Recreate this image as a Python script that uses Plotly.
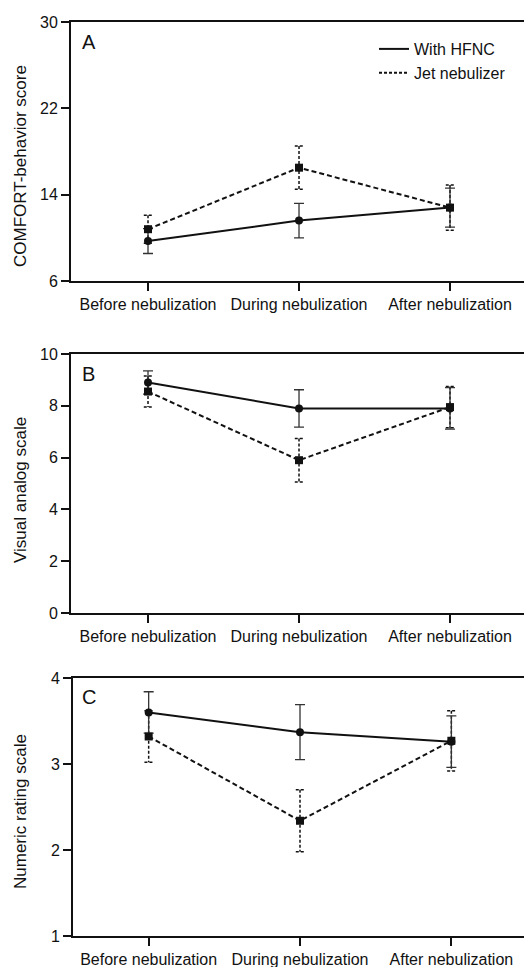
import plotly.graph_objects as go

categories = ["Before nebulization", "During nebulization", "After nebulization"]
xpos = [0, 1, 2]

a_hfnc = [9.7, 11.6, 12.8]
a_hfnc_err = [1.15, 1.6, 1.8]
a_jet = [10.8, 16.5, 12.8]
a_jet_err = [1.3, 2.0, 2.1]

b_hfnc = [8.9, 7.9, 7.9]
b_hfnc_err = [0.45, 0.72, 0.8]
b_jet = [8.55, 5.9, 7.95]
b_jet_err = [0.6, 0.84, 0.8]

c_hfnc = [3.6, 3.37, 3.26]
c_hfnc_err = [0.24, 0.32, 0.3]
c_jet = [3.32, 2.34, 3.27]
c_jet_err = [0.3, 0.36, 0.35]

panels = [
    dict(letter="A", title="COMFORT-behavior score", hf=a_hfnc, hfe=a_hfnc_err, jt=a_jet, jte=a_jet_err,
         yrange=[6, 30], ticks=[6, 14, 22, 30], top=22, bottom=281, left=71, xr=[-0.51, 2.49],
         tcy=166, lety=42),
    dict(letter="B", title="Visual analog scale", hf=b_hfnc, hfe=b_hfnc_err, jt=b_jet, jte=b_jet_err,
         yrange=[0, 10], ticks=[0, 2, 4, 6, 8, 10], top=354, bottom=613, left=71, xr=[-0.51, 2.49],
         tcy=490, lety=374),
    dict(letter="C", title="Numeric rating scale", hf=c_hfnc, hfe=c_hfnc_err, jt=c_jet, jte=c_jet_err,
         yrange=[1, 4], ticks=[1, 2, 3, 4], top=678, bottom=936, left=73, xr=[-0.50, 2.48],
         tcy=812, lety=697),
]

W, H = 524, 967
FONT = "Liberation Sans, Arial, sans-serif"
fig = go.Figure()
layout = {}
annotations = []
cap = 0.028

for i, p in enumerate(panels):
    n = "" if i == 0 else str(i + 1)
    xa, ya = "x" + n, "y" + n
    # dashed error bars for jet nebulizer
    ex, ey = [], []
    for x, m, e in zip(xpos, p["jt"], p["jte"]):
        ex += [x - cap, x + cap, None, x, x, None, x - cap, x + cap, None]
        ey += [m + e, m + e, None, m + e, m - e, None, m - e, m - e, None]
    fig.add_trace(go.Scatter(x=ex, y=ey, mode="lines", xaxis=xa, yaxis=ya, showlegend=False,
                             line=dict(color="#111", width=1.5, dash="3px,2px"), hoverinfo="skip"))
    fig.add_trace(go.Scatter(x=xpos, y=p["hf"], mode="lines+markers", xaxis=xa, yaxis=ya, showlegend=False,
                             line=dict(color="#111", width=2),
                             marker=dict(symbol="circle", size=8, color="#111"),
                             error_y=dict(type="data", array=p["hfe"], color="#333", thickness=1.3, width=5)))
    fig.add_trace(go.Scatter(x=xpos, y=p["jt"], mode="lines+markers", xaxis=xa, yaxis=ya, showlegend=False,
                             line=dict(color="#111", width=2, dash="5px,3px"),
                             marker=dict(symbol="square", size=8, color="#111")))
    d0 = p["left"] / W
    layout["xaxis" + n] = dict(domain=[d0, 1], range=p["xr"], tickvals=xpos, ticktext=categories,
                               anchor=ya, showline=True, linecolor="#111", linewidth=2, mirror=True,
                               ticks="outside", ticklen=8, tickwidth=2, tickcolor="#111",
                               showgrid=False, zeroline=False, automargin=False,
                               tickfont=dict(family=FONT, size=16, color="#111"))
    layout["yaxis" + n] = dict(domain=[1 - p["bottom"] / H, 1 - p["top"] / H], range=p["yrange"],
                               tickvals=p["ticks"], anchor=xa, showline=True, linecolor="#111",
                               linewidth=2, ticks="outside", ticklen=8, tickwidth=2, tickcolor="#111",
                               showgrid=False, zeroline=False, automargin=False,
                               tickfont=dict(family=FONT, size=16, color="#111"))
    annotations.append(dict(text=p["title"], textangle=-90, xref="paper", yref="paper",
                            x=20 / W, y=1 - p["tcy"] / H, xanchor="center", yanchor="middle",
                            showarrow=False, font=dict(family=FONT, size=17, color="#111")))
    annotations.append(dict(text=p["letter"], xref="paper", yref="paper",
                            x=80 / W, y=1 - p["lety"] / H, xanchor="left", yanchor="middle",
                            showarrow=False, font=dict(family=FONT, size=20, color="#111")))

# legend-only entries
fig.add_trace(go.Scatter(x=[None], y=[None], mode="lines", name="With HFNC",
                         line=dict(color="#111", width=2)))
fig.add_trace(go.Scatter(x=[None], y=[None], mode="lines", name="Jet nebulizer",
                         line=dict(color="#111", width=2, dash="3px,2px")))

fig.update_layout(
    template="none",
    width=W, height=H, margin=dict(l=0, r=0, t=0, b=0, autoexpand=False),
    paper_bgcolor="white", plot_bgcolor="white",
    annotations=annotations,
    legend=dict(x=374 / W, y=1 - 32 / H, xanchor="left", yanchor="top",
                bgcolor="rgba(0,0,0,0)", font=dict(family=FONT, size=16, color="#111"),
                tracegroupgap=0, itemwidth=30),
    **layout,
)
fig.write_html("out.html", config={"displayModeBar": False},
               post_script="document.body.style.margin='0';document.body.style.padding='0';"
                           "document.body.style.overflow='hidden';")
